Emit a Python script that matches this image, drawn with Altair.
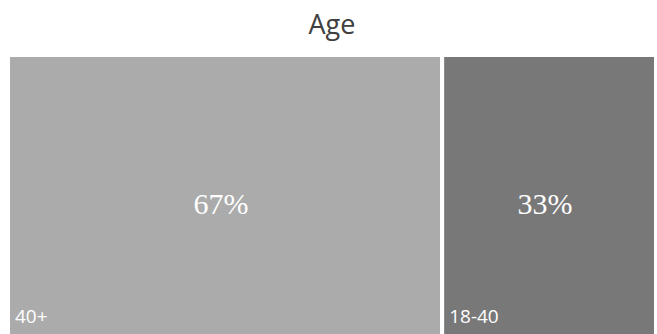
import altair as alt
import pandas as pd

categories = ["40+", "18-40"]
values = [67, 33]
labels = ["67%", "33%"]
order = [0, 1]
colors = ["#ababab", "#787878"]

df = pd.DataFrame({"cat": categories, "value": values, "label": labels, "ord": order})

base = alt.Chart(df).transform_window(
    cum="sum(value)", sort=[alt.SortField("ord")]
).transform_calculate(
    start="datum.cum - datum.value",
    mid="datum.cum - datum.value / 2",
)

xscale = alt.Scale(domain=[0, 100], nice=False, zero=False)

rects = base.mark_rect(stroke="white", strokeWidth=4).encode(
    x=alt.X("start:Q", scale=xscale, axis=None),
    x2="cum:Q",
    y=alt.value(0),
    y2=alt.value(290),
    color=alt.Color("cat:N", scale=alt.Scale(domain=categories, range=colors), legend=None),
)

pct = base.mark_text(font="Liberation Serif", fontSize=30, color="white", baseline="middle", dx=-4).encode(
    x=alt.X("mid:Q", scale=xscale),
    y=alt.value(150),
    text="label:N",
)

cat = base.mark_text(font="Liberation Sans Narrow, Open Sans", fontSize=19, color="white", align="left", baseline="alphabetic", dx=7).encode(
    x=alt.X("start:Q", scale=xscale),
    y=alt.value(268),
    text="cat:N",
)

chart = alt.layer(rects, pct, cat).properties(
    width=648,
    height=279,
    title=alt.TitleParams("Age", font="Open Sans", fontSize=27, fontWeight="normal", color="#404040", offset=13, anchor="middle"),
    padding={"left": 8, "top": 55, "right": 1, "bottom": 0},
    autosize=alt.AutoSizeParams(type="none"),
).configure_view(stroke=None)

chart.save("out.html", embed_options={"renderer": "svg", "actions": False})
